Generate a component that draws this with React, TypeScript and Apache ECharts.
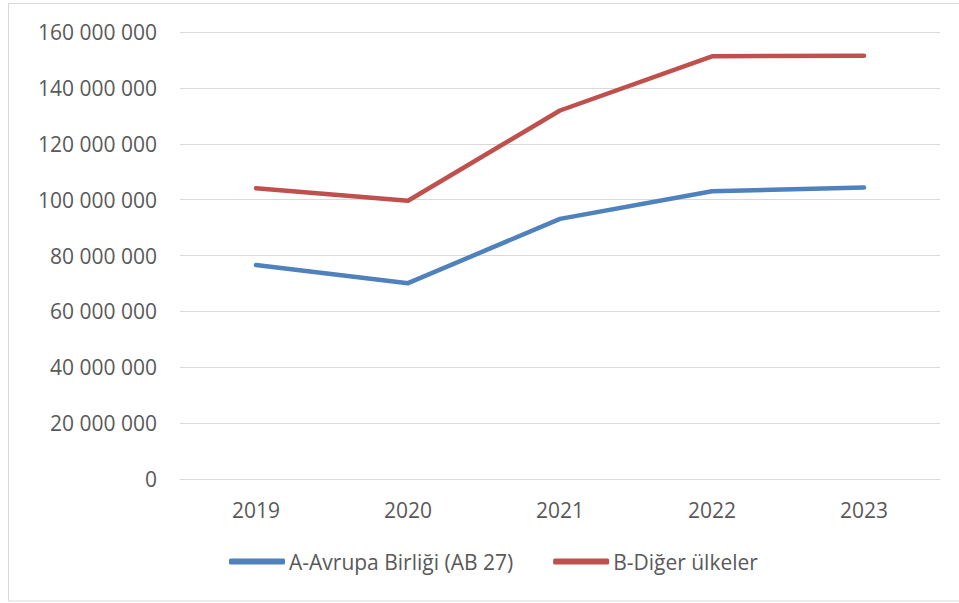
import React, { useEffect, useRef } from "react";
import * as echarts from "echarts";

const categories = ["2019", "2020", "2021", "2022", "2023"];
const seriesNames = ["A-Avrupa Birliği (AB 27)", "B-Diğer ülkeler"];
const euValues = [76600000, 70100000, 93100000, 103000000, 104300000];
const otherValues = [104100000, 99600000, 131900000, 151300000, 151500000];
const colors = ["#4F81BD", "#C0504D"];

const fmt = (v: number) => String(Math.round(v)).replace(/\B(?=(\d{3})+(?!\d))/g, " ");

export default function App() {
  const ref = useRef<HTMLDivElement>(null);
  useEffect(() => {
    if (!ref.current) return;
    const chart = echarts.init(ref.current, undefined, { renderer: "svg" });
    const font = "'Open Sans', 'Noto Sans', sans-serif";
    chart.setOption({
      animation: false,
      backgroundColor: "#ffffff",
      textStyle: { fontFamily: font },
      graphic: [
        {
          type: "rect",
          shape: { x: 8.5, y: 3.5, width: 960, height: 597.5 },
          style: { fill: "none", stroke: "#D9D9D9", lineWidth: 1 },
          silent: true,
        },
      ],
      grid: { left: 180, right: 19, top: 32, bottom: 124, containLabel: false },
      legend: {
        bottom: 26,
        left: 224,
        padding: 5,
        icon: "roundRect",
        itemWidth: 56,
        itemHeight: 6,
        itemGap: 40,
        textStyle: { color: "#595959", fontSize: 21, fontFamily: font, padding: [0, 0, 0, -1] },
        data: seriesNames,
      },
      xAxis: {
        type: "category",
        data: categories,
        boundaryGap: true,
        axisLine: { show: true, lineStyle: { color: "#D9D9D9", width: 1 } },
        axisTick: { show: false },
        axisLabel: { color: "#595959", fontSize: 21, margin: 20, fontFamily: font },
      },
      yAxis: {
        type: "value",
        min: 0,
        max: 160000000,
        interval: 20000000,
        axisLine: { show: false },
        axisTick: { show: false },
        splitLine: { lineStyle: { color: "#D9D9D9", width: 1 } },
        axisLabel: {
          color: "#595959",
          fontSize: 21,
          margin: 23,
          fontFamily: font,
          formatter: (v: number) => fmt(v),
        },
      },
      series: [
        {
          name: seriesNames[0],
          type: "line",
          data: euValues,
          symbol: "none",
          lineStyle: { color: colors[0], width: 4.5, cap: "round", join: "round" },
          itemStyle: { color: colors[0] },
        },
        {
          name: seriesNames[1],
          type: "line",
          data: otherValues,
          symbol: "none",
          lineStyle: { color: colors[1], width: 4.5, cap: "round", join: "round" },
          itemStyle: { color: colors[1] },
        },
      ],
    });
    return () => chart.dispose();
  }, []);
  return <div ref={ref} style={{ width: 959, height: 603, position: "absolute", left: 0, top: 0 }} />;
}
